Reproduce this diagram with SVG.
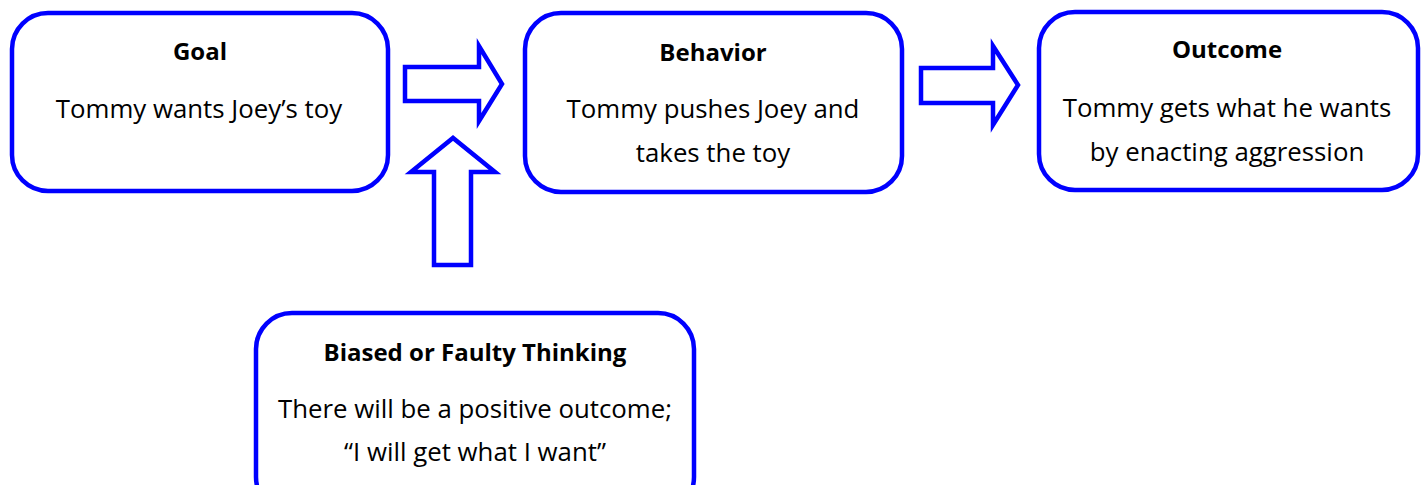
<svg xmlns="http://www.w3.org/2000/svg" width="1424" height="485" viewBox="0 0 1424 485">
<style>
.box{fill:#fff;stroke:#0000ff;stroke-width:4.5}
.arr{fill:#fff;stroke:#0000ff;stroke-width:4.5;stroke-linejoin:miter}
.t{font-family:"Open Sans","Liberation Sans",sans-serif;font-weight:bold;font-size:24px;fill:#000;text-anchor:middle}
.b{font-family:"Open Sans","Liberation Sans",sans-serif;font-size:25.8px;fill:#000;text-anchor:middle}
</style>
<rect width="1424" height="485" fill="#fff"/>
<g id="connectors">
<polygon class="arr" points="405,67 479,67 479,46 502,84 479,121 479,101 405,101"/>
<polygon class="arr" points="921,68 993,68 993,46 1018,85 993,125 993,103 921,103"/>
<polygon class="arr" points="434,265 471,265 471,172 495,172 453,138 411,172 434,172"/>
</g>
<g id="goal">
<rect class="box" x="12" y="13" width="376" height="178" rx="36"/>
<text class="t" x="200" y="60">Goal</text>
<text class="b" x="199" y="118">Tommy wants Joey’s toy</text>
</g>
<g id="behavior">
<rect class="box" x="525" y="13" width="377" height="179" rx="36"/>
<text class="t" x="713" y="61">Behavior</text>
<text class="b" x="713" y="118">Tommy pushes Joey and</text>
<text class="b" x="713" y="162">takes the toy</text>
</g>
<g id="outcome">
<rect class="box" x="1039" y="12" width="379" height="178" rx="36"/>
<text class="t" x="1227" y="58">Outcome</text>
<text class="b" x="1227" y="117">Tommy gets what he wants</text>
<text class="b" x="1227" y="161">by enacting aggression</text>
</g>
<g id="thinking">
<rect class="box" x="256" y="313" width="438" height="200" rx="36"/>
<text class="t" x="475" y="361">Biased or Faulty Thinking</text>
<text class="b" x="475" y="418">There will be a positive outcome;</text>
<text class="b" x="475" y="461">“I will get what I want”</text>
</g>
</svg>
